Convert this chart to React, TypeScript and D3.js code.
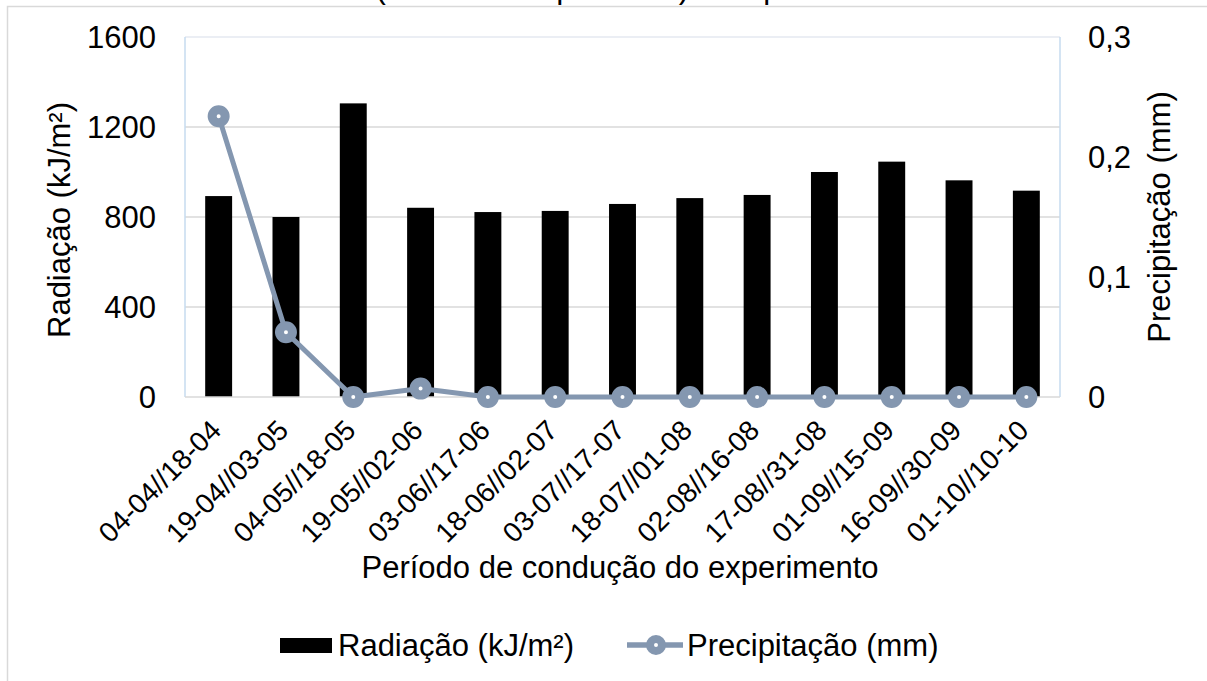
import * as d3 from 'd3'
import { useEffect, useRef } from 'react'

// periods (quinzenas) on the x axis
const periodos = [
  '04-04//18-04', '19-04//03-05', '04-05//18-05', '19-05//02-06', '03-06//17-06',
  '18-06//02-07', '03-07//17-07', '18-07//01-08', '02-08//16-08', '17-08//31-08',
  '01-09//15-09', '16-09//30-09', '01-10//10-10'
]
// radiation, kJ/m2 (bars, left axis)
const radiacao = [893, 800, 1305, 841, 822, 827, 858, 884, 898, 1000, 1046, 963, 917]
// precipitation, mm (line, right axis)
const precipitacao = [0.234, 0.054, 0, 0.007, 0, 0, 0, 0, 0, 0, 0, 0, 0]

const ticksRad = [0, 400, 800, 1200, 1600]
const ticksPrec = [0, 0.1, 0.2, 0.3]

const W = 1207
const H = 681
const FONT = '"Liberation Sans", Arial, sans-serif'
const LINE = '#8497b0'

export default function App () {
  const svgRef = useRef<SVGSVGElement>(null)

  useEffect(() => {
    const svg = d3.select(svgRef.current)
    svg.selectAll('*').remove()

    const plot = { left: 185, right: 1060, top: 37, bottom: 397 }

    const x = d3.scaleBand<string>()
      .domain(periodos)
      .range([plot.left, plot.right])
      .paddingInner(0.6)
      .paddingOuter(0.3)
    const yL = d3.scaleLinear().domain([0, 1600]).range([plot.bottom, plot.top])
    const yR = d3.scaleLinear().domain([0, 0.3]).range([plot.bottom, plot.top])
    const cx = (d: string) => (x(d) ?? 0) + x.bandwidth() / 2

    // outer chart border (cropped on right / bottom)
    svg.append('rect')
      .attr('x', 7.5).attr('y', 6.5)
      .attr('width', W + 50).attr('height', H + 50)
      .attr('fill', 'white')
      .attr('stroke', '#d9d9d9').attr('stroke-width', 1.5)

    // cropped title, only the bottom of it shows
    svg.append('text')
      .attr('x', 615).attr('y', -2)
      .attr('text-anchor', 'middle')
      .style('font-family', FONT).style('font-size', '31px')
      .text('(acumulado quinzenal) Seropédica')

    // gridlines
    svg.append('g').selectAll('line')
      .data(ticksRad.slice(1, -1))
      .join('line')
      .attr('x1', plot.left).attr('x2', plot.right)
      .attr('y1', d => yL(d)).attr('y2', d => yL(d))
      .attr('stroke', '#d9d9d9').attr('stroke-width', 1.5)

    // plot frame
    svg.append('line')
      .attr('x1', plot.left).attr('x2', plot.right)
      .attr('y1', plot.top).attr('y2', plot.top)
      .attr('stroke', '#e4e9f0').attr('stroke-width', 1.5)
    svg.append('line')
      .attr('x1', plot.left).attr('x2', plot.left)
      .attr('y1', plot.top).attr('y2', plot.bottom)
      .attr('stroke', '#c6dbef').attr('stroke-width', 1.5)
    svg.append('line')
      .attr('x1', plot.right).attr('x2', plot.right)
      .attr('y1', plot.top).attr('y2', plot.bottom)
      .attr('stroke', '#c6dbef').attr('stroke-width', 1.5)

    // bars
    svg.append('g').selectAll('rect')
      .data(radiacao)
      .join('rect')
      .attr('x', (_, i) => x(periodos[i]) ?? 0)
      .attr('y', d => yL(d))
      .attr('width', x.bandwidth())
      .attr('height', d => plot.bottom - yL(d))
      .attr('fill', 'black')

    // x axis line
    svg.append('line')
      .attr('x1', plot.left).attr('x2', plot.right)
      .attr('y1', plot.bottom).attr('y2', plot.bottom)
      .attr('stroke', '#d9d9d9').attr('stroke-width', 1.5)

    // precipitation line
    const line = d3.line<number>()
      .x((_, i) => cx(periodos[i]))
      .y(d => yR(d))
    svg.append('path')
      .datum(precipitacao)
      .attr('d', line)
      .attr('fill', 'none')
      .attr('stroke', LINE).attr('stroke-width', 5)
      .attr('stroke-linejoin', 'round')
    svg.append('g').selectAll('circle')
      .data(precipitacao)
      .join('circle')
      .attr('cx', (_, i) => cx(periodos[i]))
      .attr('cy', d => yR(d))
      .attr('r', 6.5)
      .attr('fill', 'white')
      .attr('stroke', LINE).attr('stroke-width', 9)

    // left tick labels
    svg.append('g').selectAll('text')
      .data(ticksRad)
      .join('text')
      .attr('x', 156).attr('y', d => yL(d))
      .attr('dy', '0.36em')
      .attr('text-anchor', 'end')
      .style('font-family', FONT).style('font-size', '31px')
      .text(d => String(d))

    // right tick labels
    const fmt = (d: number) => String(d).replace('.', ',')
    svg.append('g').selectAll('text')
      .data(ticksPrec)
      .join('text')
      .attr('x', 1088).attr('y', d => yR(d))
      .attr('dy', '0.36em')
      .style('font-family', FONT).style('font-size', '31px')
      .text(d => fmt(d))

    // x tick labels, rotated
    svg.append('g').selectAll('text')
      .data(periodos)
      .join('text')
      .attr('transform', d => `translate(${cx(d) + 4},432) rotate(-45)`)
      .attr('text-anchor', 'end')
      .style('font-family', FONT).style('font-size', '28px')
      .text(d => d)

    // axis titles
    svg.append('text')
      .attr('transform', 'translate(70,220) rotate(-90)')
      .attr('text-anchor', 'middle')
      .style('font-family', FONT).style('font-size', '31px')
      .text('Radiação (kJ/m²)')
    svg.append('text')
      .attr('transform', 'translate(1170,217) rotate(-90)')
      .attr('text-anchor', 'middle')
      .style('font-family', FONT).style('font-size', '31px')
      .text('Precipitação (mm)')
    svg.append('text')
      .attr('x', 620).attr('y', 578)
      .attr('text-anchor', 'middle')
      .style('font-family', FONT).style('font-size', '31px')
      .text('Período de condução do experimento')

    // legend
    const lg = svg.append('g')
    lg.append('rect')
      .attr('x', 280).attr('y', 638).attr('width', 52).attr('height', 15)
      .attr('fill', 'black')
    lg.append('text')
      .attr('x', 338).attr('y', 656)
      .style('font-family', FONT).style('font-size', '31px')
      .text('Radiação (kJ/m²)')
    lg.append('line')
      .attr('x1', 627).attr('x2', 683).attr('y1', 645).attr('y2', 645)
      .attr('stroke', LINE).attr('stroke-width', 5.5)
    lg.append('circle')
      .attr('cx', 656).attr('cy', 645).attr('r', 6)
      .attr('fill', 'white')
      .attr('stroke', LINE).attr('stroke-width', 8)
    lg.append('text')
      .attr('x', 687).attr('y', 656)
      .style('font-family', FONT).style('font-size', '31px')
      .text('Precipitação (mm)')
  }, [])

  return (
    <svg ref={svgRef} width={W} height={H}
      style={{ position: 'absolute', left: 0, top: 0, background: 'white' }} />
  )
}
